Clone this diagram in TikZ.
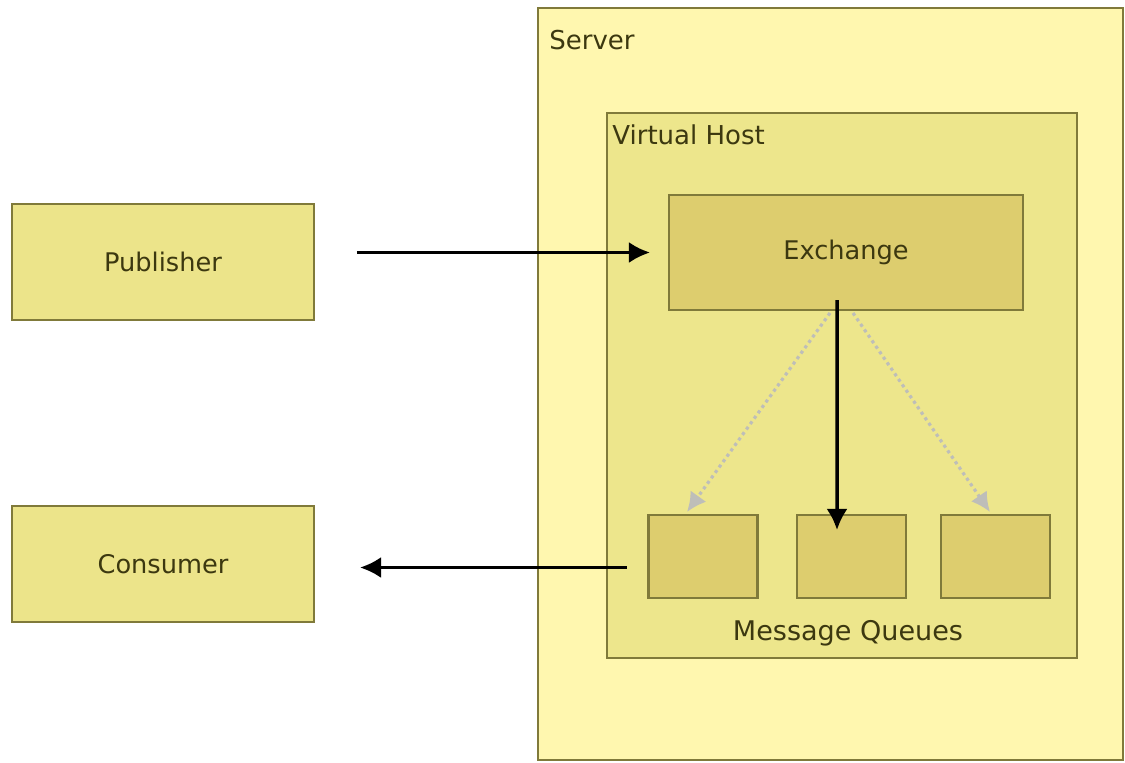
\documentclass[tikz,border=0pt]{standalone}
\usepackage{fontspec}
\setmainfont{DejaVu Sans}
\usetikzlibrary{arrows.meta}
\definecolor{serverfill}{RGB}{255,247,175}
\definecolor{hostfill}{RGB}{237,230,140}
\definecolor{boxfill}{RGB}{236,228,138}
\definecolor{innerfill}{RGB}{221,205,110}
\definecolor{boxline}{RGB}{128,122,58}
\definecolor{boxtext}{RGB}{60,56,16}
\definecolor{routegray}{RGB}{190,190,185}
\tikzset{
  box/.style={rectangle,draw=boxline,line width=1.4pt,inner sep=0pt,outer sep=0pt,text=boxtext,font=\fontsize{14.6}{17}\selectfont},
  lbl/.style={text=boxtext,font=\fontsize{14.8}{17}\selectfont,inner sep=0pt},
  flow/.style={draw,line width=2pt,-{Latex[length=12pt,width=12pt]}},
  route/.style={draw=routegray,dotted,line width=1.8pt,-{Latex[length=11pt,width=11pt]}}
}
\begin{document}
\begin{tikzpicture}[x=0.02cm,y=-0.02cm]
				\useasboundingbox[fill=white] (0,0) rectangle (1125,762);
				\node[box,fill=serverfill,minimum width=11.7cm,minimum height=15.04cm] (server) at (830.5,384) {};
				\node[lbl,anchor=west] (servertitle) at (549,40) {Server};
				\node[box,fill=hostfill,minimum width=9.4cm,minimum height=10.9cm] (vhost) at (842,385.5) {};
				\node[lbl,anchor=west] (vhosttitle) at (612,135) {Virtual Host};
				\node[box,fill=boxfill,minimum width=6.04cm,minimum height=2.32cm] (publisher) at (163,262) {Publisher};
				\node[box,fill=boxfill,minimum width=6.04cm,minimum height=2.32cm] (consumer) at (163,564) {Consumer};
				\node[box,fill=innerfill,minimum width=7.08cm,minimum height=2.3cm] (exchange) at (846,252.5) {Exchange};
				\node[box,fill=innerfill,minimum width=2.18cm,minimum height=1.66cm] (queue1) at (703,556.5) {};
				\node[box,fill=innerfill,minimum width=2.18cm,minimum height=1.66cm] (queue2) at (851.5,556.5) {};
				\node[box,fill=innerfill,minimum width=2.18cm,minimum height=1.66cm] (queue3) at (995.5,556.5) {};
				\node[lbl,font=\fontsize{15.4}{18}\selectfont] (queuestitle) at (848,633) {Message Queues};
				\path[flow,shorten <=0.86cm,shorten >=0.38cm] (publisher.east |- exchange.west) to (exchange.west);
				\path[flow,shorten <=0.44cm,shorten >=0.92cm] ([yshift=-0.22cm]queue1.west) to ([yshift=-0.22cm]consumer.east |- queue1.west);
				\path[route] ([xshift=-0.32cm,yshift=-0.06cm]exchange.south) to ([xshift=-0.32cm,yshift=0.06cm]queue1.north);
				\path[route] ([xshift=0.14cm,yshift=-0.06cm]exchange.south) to ([xshift=-0.11cm,yshift=0.06cm]queue3.north);
				\path[flow] ([xshift=-0.18cm,yshift=0.2cm]exchange.south) to ([xshift=-0.29cm,yshift=-0.3cm]queue2.north);
			\end{tikzpicture}
\end{document}
